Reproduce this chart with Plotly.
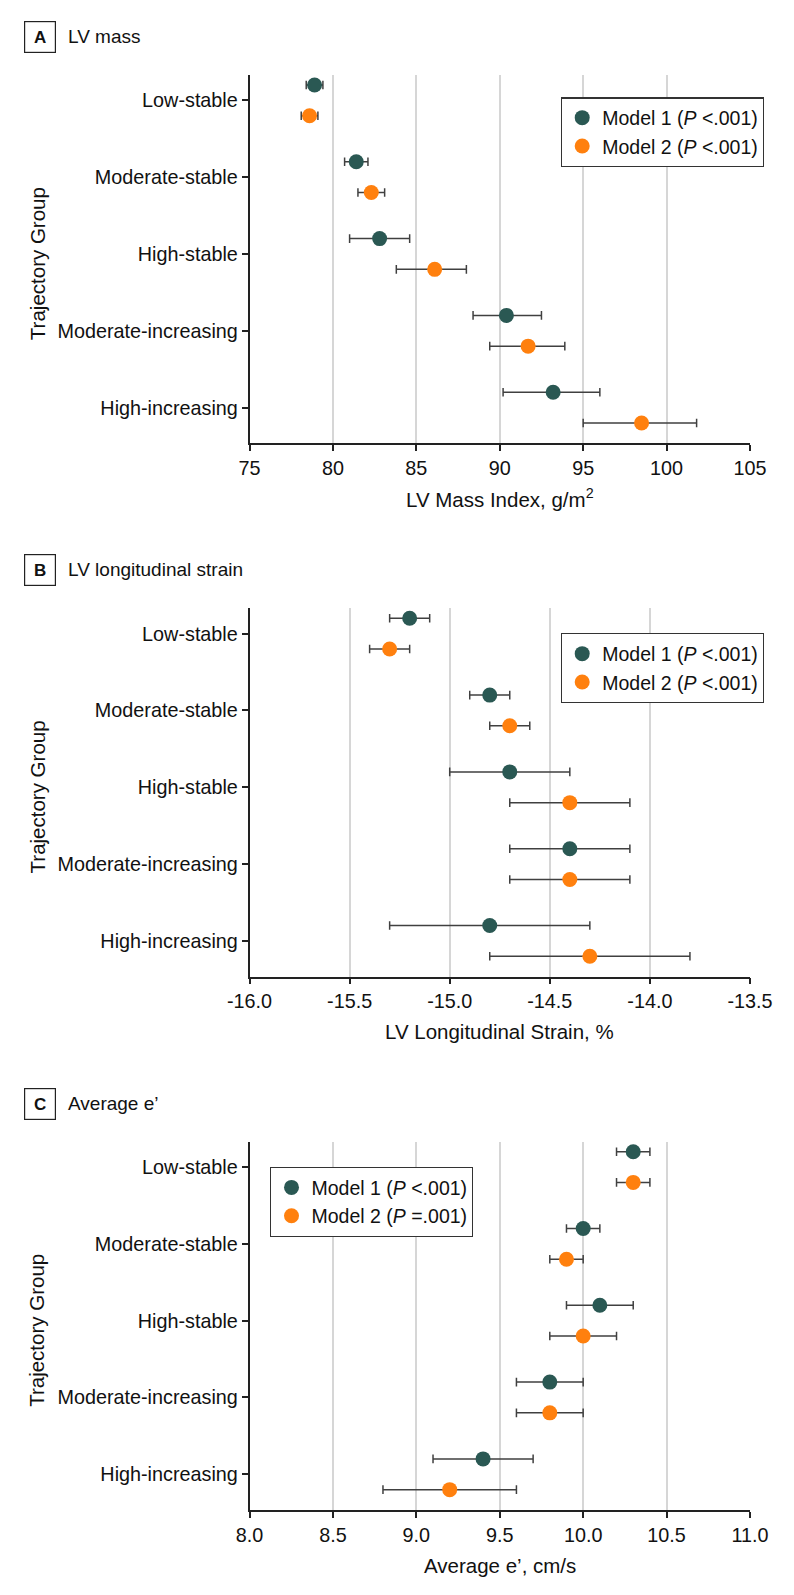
import plotly.graph_objects as go

# ---------------- data ----------------
groups = ["Low-stable", "Moderate-stable", "High-stable", "Moderate-increasing", "High-increasing"]

# Panel A: LV mass index (g/m2)
a_m1 = [78.9, 81.4, 82.8, 90.4, 93.2]
a_m1_lo = [78.4, 80.7, 81.0, 88.4, 90.2]
a_m1_hi = [79.4, 82.1, 84.6, 92.5, 96.0]
a_m2 = [78.6, 82.3, 86.1, 91.7, 98.5]
a_m2_lo = [78.1, 81.5, 83.8, 89.4, 95.0]
a_m2_hi = [79.1, 83.1, 88.0, 93.9, 101.8]

# Panel B: LV longitudinal strain (%)
b_m1 = [-15.2, -14.8, -14.7, -14.4, -14.8]
b_m1_lo = [-15.3, -14.9, -15.0, -14.7, -15.3]
b_m1_hi = [-15.1, -14.7, -14.4, -14.1, -14.3]
b_m2 = [-15.3, -14.7, -14.4, -14.4, -14.3]
b_m2_lo = [-15.4, -14.8, -14.7, -14.7, -14.8]
b_m2_hi = [-15.2, -14.6, -14.1, -14.1, -13.8]

# Panel C: Average e' (cm/s)
c_m1 = [10.3, 10.0, 10.1, 9.8, 9.4]
c_m1_lo = [10.2, 9.9, 9.9, 9.6, 9.1]
c_m1_hi = [10.4, 10.1, 10.3, 10.0, 9.7]
c_m2 = [10.3, 9.9, 10.0, 9.8, 9.2]
c_m2_lo = [10.2, 9.8, 9.8, 9.6, 8.8]
c_m2_hi = [10.4, 10.0, 10.2, 10.0, 9.6]

panel_letters = ["A", "B", "C"]
panel_titles = ["LV mass", "LV longitudinal strain", "Average e\u2019"]
x_titles = ["LV Mass Index, g/m<sup>2</sup>", "LV Longitudinal Strain, %", "Average e\u2019, cm/s"]
x_ticks = [[75, 80, 85, 90, 95, 100, 105],
           [-16.0, -15.5, -15.0, -14.5, -14.0, -13.5],
           [8.0, 8.5, 9.0, 9.5, 10.0, 10.5, 11.0]]
x_ticktext = [["75", "80", "85", "90", "95", "100", "105"],
              ["-16.0", "-15.5", "-15.0", "-14.5", "-14.0", "-13.5"],
              ["8.0", "8.5", "9.0", "9.5", "10.0", "10.5", "11.0"]]
legend_labels = [["Model 1 (<i>P</i> &lt;.001)", "Model 2 (<i>P</i> &lt;.001)"],
                 ["Model 1 (<i>P</i> &lt;.001)", "Model 2 (<i>P</i> &lt;.001)"],
                 ["Model 1 (<i>P</i> &lt;.001)", "Model 2 (<i>P</i> =.001)"]]

# ---------------- style ----------------
W, H = 794, 1595
FONT = "Liberation Sans"
FS_TICK = 19.8
FS_LEG = 19.5
FS_TITLE = 19
FS_AXT = 20.5
TEAL = "#2a5853"
ORANGE = "#ff800e"
ERR = "#404040"
GRID = "#d6d6d6"
AXIS = "#222222"
TXT = "#111111"

plot_left, plot_right = 249.5, 750.0
plot_tops = [75.0, 608.3, 1141.7]
plot_h = 368.3
legend_pos = [(561, 97.3), (561, 633.3), (270.3, 1167.0)]


def py(px):
    return 1 - px / H


def px_x(px):
    return px / W


data = [
    (a_m1, a_m1_lo, a_m1_hi, a_m2, a_m2_lo, a_m2_hi),
    (b_m1, b_m1_lo, b_m1_hi, b_m2, b_m2_lo, b_m2_hi),
    (c_m1, c_m1_lo, c_m1_hi, c_m2, c_m2_lo, c_m2_hi),
]

fig = go.Figure()
idx = list(range(len(groups)))
annotations = []

for p, (m1, m1lo, m1hi, m2, m2lo, m2hi) in enumerate(data):
    xa = "x" if p == 0 else f"x{p+1}"
    ya = "y" if p == 0 else f"y{p+1}"
    lg = "legend" if p == 0 else f"legend{p+1}"
    for k, (vals, lo, hi, col, off) in enumerate([
        (m1, m1lo, m1hi, TEAL, -0.2),
        (m2, m2lo, m2hi, ORANGE, 0.2),
    ]):
        fig.add_trace(go.Scatter(
            x=vals,
            y=[i + off for i in idx],
            mode="markers",
            marker=dict(color=col, size=15, line=dict(width=0)),
            error_x=dict(type="data", symmetric=False,
                         array=[h - v for h, v in zip(hi, vals)],
                         arrayminus=[v - l for v, l in zip(vals, lo)],
                         color=ERR, thickness=1.5, width=4.3),
            name=legend_labels[p][k],
            xaxis=xa, yaxis=ya, legend=lg,
            hoverinfo="skip",
        ))

    top = plot_tops[p]
    bottom = top + plot_h
    dom_y = [py(bottom), py(top)]
    ax_common = dict(showline=True, linecolor=AXIS, linewidth=1.5,
                     ticks="outside", tickcolor=AXIS, tickwidth=1.5,
                     tickfont=dict(family=FONT, size=FS_TICK, color=TXT),
                     zeroline=False, automargin=False)
    fig.layout[f"xaxis{'' if p == 0 else p+1}"] = dict(
        domain=[px_x(plot_left), px_x(plot_right)],
        anchor=ya,
        range=[x_ticks[p][0], x_ticks[p][-1]],
        tickmode="array", tickvals=x_ticks[p], ticktext=x_ticktext[p],
        ticklen=6, showgrid=True, gridcolor=GRID, gridwidth=1.5,
        **ax_common)
    fig.layout[f"yaxis{'' if p == 0 else p+1}"] = dict(
        domain=dom_y,
        anchor=xa,
        range=[4.465, -0.33],
        tickmode="array", tickvals=idx, ticktext=groups,
        ticklen=6, showgrid=False,
        **ax_common)
    fig.layout[lg] = dict(
        x=px_x(legend_pos[p][0]), y=py(legend_pos[p][1]),
        xanchor="left", yanchor="top",
        bordercolor="#333333", borderwidth=1.2, bgcolor="white",
        font=dict(family=FONT, size=FS_LEG, color=TXT),
        tracegroupgap=0,
    )

    # panel letter in box
    annotations.append(dict(
        x=px_x(24), y=py(top - 54), xref="paper", yref="paper",
        xanchor="left", yanchor="top",
        text="<b>%s</b>" % panel_letters[p], showarrow=False,
        width=28, height=28, borderpad=1, bordercolor="#222", borderwidth=1.2,
        font=dict(family=FONT, size=17, color=TXT)))
    # panel title
    annotations.append(dict(
        x=px_x(66), y=py(top - 38.5), xref="paper", yref="paper",
        xanchor="left", yanchor="middle",
        text=panel_titles[p], showarrow=False,
        font=dict(family=FONT, size=FS_TITLE, color=TXT)))
    # x axis title
    annotations.append(dict(
        x=px_x((plot_left + plot_right) / 2), y=py(bottom + 55),
        xref="paper", yref="paper", xanchor="center", yanchor="middle",
        text=x_titles[p], showarrow=False,
        font=dict(family=FONT, size=FS_AXT, color=TXT)))
    # y axis title
    annotations.append(dict(
        x=px_x(37), y=py(top + plot_h / 2 + 5),
        xref="paper", yref="paper", xanchor="center", yanchor="middle",
        text="Trajectory Group", textangle=-90, showarrow=False,
        font=dict(family=FONT, size=FS_AXT, color=TXT)))

fig.update_layout(
    width=W, height=H,
    margin=dict(l=0, r=0, t=0, b=0, pad=0, autoexpand=False),
    paper_bgcolor="white", plot_bgcolor="white",
    showlegend=True,
    annotations=annotations,
    font=dict(family=FONT, size=FS_TICK, color=TXT),
)

fig.write_html(
    "out.html",
    config={"displayModeBar": False, "staticPlot": False},
    post_script="document.body.style.margin='0';document.body.style.padding='0';"
                "document.documentElement.style.overflow='hidden';",
)
